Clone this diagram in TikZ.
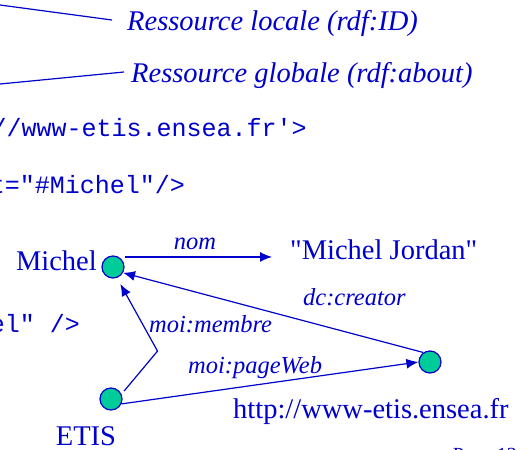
\documentclass[tikz,border=0pt]{standalone}
\usepackage{fontspec}
\setmainfont{Liberation Serif}
\setmonofont{Liberation Mono}
\usetikzlibrary{arrows.meta}
\definecolor{slideblue}{RGB}{0,0,204}
\definecolor{resgreen}{RGB}{0,204,153}

\begin{document}
\begin{tikzpicture}
	[x=1pt,y=-1pt,
	every node/.style={inner sep=0pt,text=slideblue},
	res/.style={circle,draw=slideblue,fill=resgreen,line width=1.2pt,minimum size=22pt},
	lit/.style={font=\fontsize{28.5}{30}\selectfont},
	prop/.style={font=\fontsize{24.5}{26}\selectfont\itshape},
	note/.style={font=\fontsize{28.5}{30}\selectfont\itshape},
	code/.style={font=\fontsize{25}{26}\selectfont\ttfamily},
	arr/.style={draw=slideblue,line width=1.2pt,-{Latex[length=12pt,width=10pt]}},
	link/.style={draw=slideblue,line width=1.2pt}]
	\useasboundingbox (0,0) rectangle (531,450);
	\clip (0,0) rectangle (531,450);
	% annotations
	\node[note,anchor=base west] (loc) at (127,30) {Ressource locale (rdf:ID)};
	\node[note,anchor=base west] (glob) at (131,82) {Ressource globale (rdf:about)};
	\coordinate (locfrom) at (0,5);
	\coordinate (globfrom) at (0,84);
	\draw[link] (locfrom) -- ([xshift=-15pt,yshift=3pt]loc.west);
	\draw[link] (globfrom) -- ([xshift=-7pt,yshift=3pt]glob.west);
	% code lines
	\node[code,anchor=base east] (about) at (307,136) {//www-etis.ensea.fr'>};
	\node[code,anchor=base east] (idref) at (185,193) {t="\#Michel"/>};
	\node[code,anchor=base east] (memb) at (80,332) {el" />};
	% graph
	\node[res] (michel) at (113,267) {};
	\node[res] (etis) at (111,399) {};
	\node[res] (web) at (430,362) {};
	\node[lit,anchor=base east] (michelname) at (97,270) {Michel};
	\node[lit,anchor=base] (etisname) at (86,445) {ETIS};
	\node[lit,anchor=base west] (mj) at (290,259) {\textquotedbl Michel Jordan\textquotedbl};
	\node[lit,anchor=base west] (url) at (233,418) {http://www-etis.ensea.fr};
	\node[prop,anchor=base] (nomlbl) at (195,249) {nom};
	\node[prop,anchor=base west] (creatorlbl) at (303,305) {dc:creator};
	\node[prop,anchor=base west] (membrelbl) at (149,332) {moi:membre};
	\node[prop,anchor=base west] (pagelbl) at (188,373) {moi:pageWeb};
	\node[font=\fontsize{20}{22}\selectfont,anchor=base east] (page) at (517,461) {Page 13};
	% arcs
	\draw[arr,shorten >=18pt] (michel.60 -| michel.east) -- (mj.west |- michel.60);
	\draw[arr] (web.125) -- (michel.-30);
	\draw[arr] (etis.-25) -- (web.west);
	\draw[arr,shorten <=4pt,shorten >=7pt] (etis.25) -- ++(36,-43) -- (michel.-70);
\end{tikzpicture}
\end{document}
